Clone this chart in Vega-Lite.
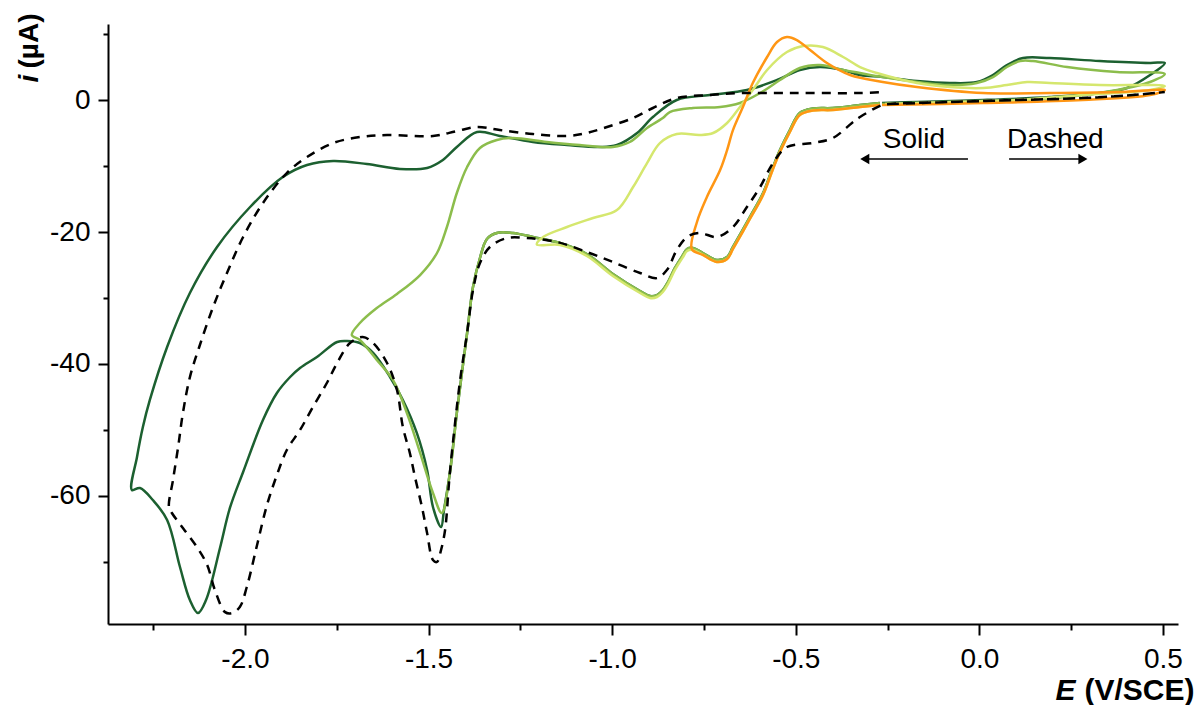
{
"$schema": "https://vega.github.io/schema/vega-lite/v6.json",
"width": 1070, "height": 600,
"autosize": {"type": "none"},
"padding": {"left": 108, "top": 24, "right": 23, "bottom": 81},
"background": "white",
"config": {"view": {"stroke": null}, "font": "Liberation Sans",
  "axis": {"grid": false, "domainColor": "black", "tickColor": "black", "labelColor": "black", "titleColor": "black", "domainWidth": 2, "tickWidth": 2}},
"datasets": {
"dark": [
{"E":-0.271,"i":-0.45},{"E":-0.325,"i":-0.76},{"E":-0.399,"i":-1.21},{"E":-0.453,"i":-1.3},{"E":-0.489,"i":-1.97},{"E":-0.516,"i":-4.55},{"E":-0.543,"i":-7.58},{"E":-0.562,"i":-10.15},{"E":-0.589,"i":-14.09},{"E":-0.625,"i":-17.73},{"E":-0.671,"i":-22.27},{"E":-0.687,"i":-23.79},{"E":-0.715,"i":-24.24},{"E":-0.753,"i":-23.18},{"E":-0.780,"i":-22.42},{"E":-0.796,"i":-22.58},{"E":-0.807,"i":-23.48},{"E":-0.829,"i":-25.45},{"E":-0.848,"i":-27.58},{"E":-0.862,"i":-28.79},{"E":-0.878,"i":-29.55},{"E":-0.897,"i":-29.7},{"E":-0.924,"i":-28.94},{"E":-0.998,"i":-26.36},{"E":-1.069,"i":-23.33},{"E":-1.142,"i":-21.67},{"E":-1.216,"i":-20.76},{"E":-1.270,"i":-20.15},{"E":-1.314,"i":-20.15},{"E":-1.341,"i":-21.06},{"E":-1.360,"i":-23.94},{"E":-1.379,"i":-28.33},{"E":-1.395,"i":-35.3},{"E":-1.423,"i":-47.42},{"E":-1.442,"i":-56.52},{"E":-1.458,"i":-62.12},{"E":-1.466,"i":-64.7},
{"E":-1.488,"i":-61.67},{"E":-1.504,"i":-56.06},{"E":-1.532,"i":-50.45},{"E":-1.570,"i":-45.45},{"E":-1.605,"i":-41.97},{"E":-1.651,"i":-38.33},{"E":-1.687,"i":-36.82},{"E":-1.722,"i":-36.52},{"E":-1.749,"i":-36.67},{"E":-1.804,"i":-38.94},{"E":-1.850,"i":-40.61},{"E":-1.877,"i":-41.97},{"E":-1.913,"i":-44.39},{"E":-1.951,"i":-48.48},{"E":-2.005,"i":-56.36},{"E":-2.041,"i":-61.82},{"E":-2.068,"i":-67.88},{"E":-2.106,"i":-75.76},{"E":-2.128,"i":-77.73},{"E":-2.150,"i":-75.76},{"E":-2.177,"i":-70.76},{"E":-2.212,"i":-63.64},{"E":-2.251,"i":-60.61},{"E":-2.286,"i":-58.79},{"E":-2.308,"i":-59.09},
{"E":-2.294,"i":-54.09},{"E":-2.278,"i":-49.55},{"E":-2.259,"i":-45.45},{"E":-2.212,"i":-37.42},{"E":-2.150,"i":-29.24},{"E":-2.076,"i":-22.27},{"E":-1.986,"i":-16.21},{"E":-1.897,"i":-11.67},{"E":-1.831,"i":-9.85},{"E":-1.760,"i":-9.24},{"E":-1.668,"i":-9.7},{"E":-1.578,"i":-10.45},{"E":-1.504,"i":-10.3},{"E":-1.461,"i":-9.09},{"E":-1.423,"i":-7.12},{"E":-1.368,"i":-4.85},{"E":-1.306,"i":-5.45},{"E":-1.216,"i":-6.36},{"E":-1.123,"i":-6.82},{"E":-1.033,"i":-7.12},{"E":-0.987,"i":-6.82},{"E":-0.932,"i":-5.0},{"E":-0.889,"i":-2.58},{"E":-0.824,"i":0},{"E":-0.734,"i":0.76},{"E":-0.633,"i":1.52},{"E":-0.551,"i":3.03},{"E":-0.489,"i":4.55},{"E":-0.434,"i":5.0},{"E":-0.371,"i":4.55},{"E":-0.325,"i":3.79},{"E":-0.263,"i":3.48},{"E":-0.170,"i":2.88},{"E":-0.080,"i":2.58},{"E":-0.007,"i":2.73},{"E":0.037,"i":3.79},{"E":0.075,"i":5.3},{"E":0.119,"i":6.36},{"E":0.192,"i":6.36},{"E":0.328,"i":5.91},{"E":0.465,"i":5.61},{"E":0.505,"i":5.61},
{"E":0.465,"i":3.79},{"E":0.402,"i":1.82},{"E":0.328,"i":1.06},{"E":0.192,"i":0.45},{"E":0.010,"i":0},{"E":-0.170,"i":-0.3},{"E":-0.265,"i":-0.45}
],
"medium": [
{"E":-0.271,"i":-0.45},{"E":-0.325,"i":-0.76},{"E":-0.399,"i":-1.21},{"E":-0.453,"i":-1.3},{"E":-0.489,"i":-1.97},{"E":-0.516,"i":-4.55},{"E":-0.543,"i":-7.58},{"E":-0.562,"i":-10.15},{"E":-0.589,"i":-14.09},{"E":-0.625,"i":-17.73},{"E":-0.671,"i":-22.27},{"E":-0.687,"i":-23.79},{"E":-0.715,"i":-24.24},{"E":-0.753,"i":-23.18},{"E":-0.780,"i":-22.42},{"E":-0.796,"i":-22.58},{"E":-0.807,"i":-23.48},{"E":-0.829,"i":-25.45},{"E":-0.848,"i":-27.58},{"E":-0.862,"i":-28.79},{"E":-0.878,"i":-29.55},{"E":-0.897,"i":-29.7},{"E":-0.924,"i":-28.94},{"E":-0.998,"i":-26.36},{"E":-1.069,"i":-23.33},{"E":-1.142,"i":-21.67},{"E":-1.216,"i":-20.76},{"E":-1.270,"i":-20.15},{"E":-1.314,"i":-20.15},{"E":-1.341,"i":-21.06},{"E":-1.360,"i":-23.94},{"E":-1.379,"i":-28.33},{"E":-1.395,"i":-35.3},{"E":-1.423,"i":-47.42},{"E":-1.442,"i":-56.52},
{"E":-1.464,"i":-62.58},{"E":-1.488,"i":-59.55},{"E":-1.523,"i":-53.48},{"E":-1.559,"i":-47.42},{"E":-1.597,"i":-42.42},{"E":-1.641,"i":-39.39},{"E":-1.687,"i":-36.36},{"E":-1.709,"i":-35.61},
{"E":-1.687,"i":-33.79},{"E":-1.641,"i":-31.52},{"E":-1.586,"i":-29.39},{"E":-1.523,"i":-26.52},{"E":-1.477,"i":-23.18},{"E":-1.450,"i":-19.24},{"E":-1.423,"i":-14.09},{"E":-1.395,"i":-10.15},{"E":-1.360,"i":-7.27},{"E":-1.314,"i":-6.06},{"E":-1.270,"i":-5.76},{"E":-1.178,"i":-6.36},{"E":-1.088,"i":-6.82},{"E":-0.998,"i":-7.12},{"E":-0.952,"i":-6.36},{"E":-0.905,"i":-4.24},{"E":-0.862,"i":-2.73},{"E":-0.843,"i":-1.82},{"E":-0.780,"i":-1.21},{"E":-0.706,"i":-1.06},{"E":-0.652,"i":-0.45},{"E":-0.597,"i":1.06},{"E":-0.543,"i":3.03},{"E":-0.489,"i":4.85},{"E":-0.434,"i":5.3},{"E":-0.371,"i":4.55},{"E":-0.325,"i":4.09},{"E":-0.263,"i":3.48},{"E":-0.170,"i":2.73},{"E":-0.080,"i":2.27},{"E":-0.007,"i":2.58},{"E":0.037,"i":3.48},{"E":0.075,"i":5.0},{"E":0.111,"i":5.91},{"E":0.146,"i":5.91},{"E":0.239,"i":5.0},{"E":0.375,"i":4.24},{"E":0.505,"i":3.94},
{"E":0.465,"i":2.73},{"E":0.375,"i":1.52},{"E":0.239,"i":0.45},{"E":0.010,"i":-0.15},{"E":-0.265,"i":-0.6}
],
"light": [
{"E":-0.271,"i":-0.75},{"E":-0.325,"i":-1.06},{"E":-0.399,"i":-1.51},{"E":-0.453,"i":-1.6},{"E":-0.489,"i":-2.27},{"E":-0.516,"i":-4.85},{"E":-0.543,"i":-7.88},{"E":-0.562,"i":-10.45},{"E":-0.589,"i":-14.39},{"E":-0.625,"i":-18.03},{"E":-0.671,"i":-22.57},{"E":-0.687,"i":-24.09},{"E":-0.715,"i":-24.54},{"E":-0.753,"i":-23.48},{"E":-0.780,"i":-22.72},{"E":-0.796,"i":-22.88},{"E":-0.807,"i":-23.78},{"E":-0.829,"i":-25.75},{"E":-0.848,"i":-27.88},{"E":-0.862,"i":-29.09},{"E":-0.878,"i":-29.85},{"E":-0.897,"i":-30.0},{"E":-0.924,"i":-29.24},{"E":-0.998,"i":-26.66},{"E":-1.069,"i":-23.63},{"E":-1.142,"i":-21.97},{"E":-1.205,"i":-21.9},
{"E":-1.188,"i":-20.76},{"E":-1.123,"i":-19.24},{"E":-1.052,"i":-17.88},{"E":-0.987,"i":-16.67},{"E":-0.943,"i":-13.18},{"E":-0.905,"i":-9.55},{"E":-0.870,"i":-6.52},{"E":-0.824,"i":-5.15},{"E":-0.761,"i":-5.3},{"E":-0.725,"i":-5.0},{"E":-0.687,"i":-3.48},{"E":-0.652,"i":-1.06},{"E":-0.617,"i":1.52},{"E":-0.578,"i":4.55},{"E":-0.524,"i":7.27},{"E":-0.480,"i":8.18},{"E":-0.426,"i":8.03},{"E":-0.371,"i":6.52},{"E":-0.325,"i":5.0},{"E":-0.279,"i":4.09},{"E":-0.170,"i":2.58},{"E":-0.080,"i":1.97},{"E":0.010,"i":1.82},{"E":0.075,"i":2.27},{"E":0.130,"i":2.73},{"E":0.192,"i":2.58},{"E":0.328,"i":2.27},{"E":0.505,"i":2.12},
{"E":0.465,"i":1.52},{"E":0.282,"i":0.76},{"E":0.102,"i":0},{"E":-0.080,"i":-0.3},{"E":-0.257,"i":-0.6}
],
"orange": [
{"E":-0.271,"i":-0.75},{"E":-0.325,"i":-1.06},{"E":-0.399,"i":-1.51},{"E":-0.453,"i":-1.6},{"E":-0.489,"i":-2.27},{"E":-0.516,"i":-4.85},{"E":-0.543,"i":-7.88},{"E":-0.562,"i":-10.45},{"E":-0.589,"i":-14.39},{"E":-0.625,"i":-18.03},{"E":-0.671,"i":-22.57},{"E":-0.687,"i":-24.09},{"E":-0.715,"i":-24.54},{"E":-0.753,"i":-23.48},{"E":-0.783,"i":-22.6},
{"E":-0.769,"i":-18.48},{"E":-0.742,"i":-14.7},{"E":-0.706,"i":-10.61},{"E":-0.687,"i":-7.58},{"E":-0.671,"i":-4.55},{"E":-0.644,"i":-1.06},{"E":-0.617,"i":2.58},{"E":-0.578,"i":6.52},{"E":-0.551,"i":8.79},{"E":-0.524,"i":9.55},{"E":-0.497,"i":9.09},{"E":-0.461,"i":7.58},{"E":-0.415,"i":5.61},{"E":-0.352,"i":3.79},{"E":-0.263,"i":2.73},{"E":-0.170,"i":1.97},{"E":0.010,"i":1.06},{"E":0.192,"i":1.06},{"E":0.375,"i":1.21},{"E":0.505,"i":1.52},
{"E":0.465,"i":0.76},{"E":0.282,"i":0},{"E":0.010,"i":-0.45},{"E":-0.265,"i":-0.76}
],
"dashed": [
{"E":-0.243,"i":-0.6},{"E":-0.080,"i":-0.3},{"E":0.102,"i":0},{"E":0.282,"i":0.3},{"E":0.418,"i":0.76},{"E":0.505,"i":1.21},{"E":0.418,"i":0.76},{"E":0.282,"i":0.3},{"E":0.102,"i":0},{"E":-0.080,"i":-0.3},{"E":-0.243,"i":-0.6},{"E":-0.265,"i":-0.76},
{"E":-0.325,"i":-2.58},{"E":-0.347,"i":-3.48},{"E":-0.399,"i":-5.76},{"E":-0.453,"i":-6.52},{"E":-0.524,"i":-7.12},{"E":-0.562,"i":-9.55},{"E":-0.597,"i":-13.18},{"E":-0.633,"i":-16.21},{"E":-0.671,"i":-19.24},{"E":-0.715,"i":-20.76},{"E":-0.761,"i":-20.15},{"E":-0.796,"i":-20.76},{"E":-0.824,"i":-22.73},{"E":-0.851,"i":-25.76},{"E":-0.878,"i":-26.97},{"E":-0.924,"i":-26.21},{"E":-0.998,"i":-24.55},{"E":-1.069,"i":-23.03},{"E":-1.150,"i":-21.52},{"E":-1.232,"i":-20.91},{"E":-1.286,"i":-20.91},{"E":-1.333,"i":-22.27},{"E":-1.360,"i":-24.7},{"E":-1.379,"i":-28.79},{"E":-1.395,"i":-35.3},{"E":-1.414,"i":-42.42},{"E":-1.442,"i":-56.52},{"E":-1.455,"i":-65.15},{"E":-1.466,"i":-68.18},{"E":-1.477,"i":-70.0},{"E":-1.488,"i":-69.7},{"E":-1.504,"i":-65.61},{"E":-1.518,"i":-61.67},{"E":-1.537,"i":-57.12},{"E":-1.551,"i":-53.48},{"E":-1.570,"i":-49.55},{"E":-1.586,"i":-43.94},{"E":-1.613,"i":-39.85},{"E":-1.651,"i":-36.82},{"E":-1.679,"i":-35.91},{"E":-1.714,"i":-36.82},{"E":-1.749,"i":-39.85},{"E":-1.777,"i":-42.88},{"E":-1.815,"i":-46.52},{"E":-1.850,"i":-50.0},{"E":-1.886,"i":-53.03},{"E":-1.913,"i":-56.82},{"E":-1.940,"i":-61.36},{"E":-1.967,"i":-67.42},{"E":-1.995,"i":-73.79},{"E":-2.014,"i":-76.82},{"E":-2.035,"i":-77.73},{"E":-2.054,"i":-77.6},{"E":-2.082,"i":-74.24},{"E":-2.103,"i":-70.45},{"E":-2.131,"i":-67.73},{"E":-2.169,"i":-64.85},{"E":-2.199,"i":-62.58},{"E":-2.207,"i":-61.67},
{"E":-2.196,"i":-57.58},{"E":-2.182,"i":-52.58},{"E":-2.169,"i":-47.42},{"E":-2.150,"i":-42.0},{"E":-2.125,"i":-37.5},{"E":-2.087,"i":-31.4},{"E":-2.049,"i":-26.21},{"E":-2.005,"i":-20.76},{"E":-1.951,"i":-15.61},{"E":-1.886,"i":-11.06},{"E":-1.831,"i":-8.64},{"E":-1.760,"i":-6.52},{"E":-1.687,"i":-5.61},{"E":-1.613,"i":-5.3},{"E":-1.488,"i":-5.45},{"E":-1.423,"i":-4.7},{"E":-1.368,"i":-4.09},{"E":-1.306,"i":-4.55},{"E":-1.216,"i":-5.15},{"E":-1.123,"i":-5.45},{"E":-1.069,"i":-5.0},{"E":-1.014,"i":-4.09},{"E":-0.943,"i":-2.73},{"E":-0.889,"i":-1.21},{"E":-0.824,"i":0.3},{"E":-0.734,"i":0.76},{"E":-0.644,"i":1.06},{"E":-0.551,"i":1.06},{"E":-0.461,"i":1.06},{"E":-0.325,"i":1.06},{"E":-0.257,"i":1.21}
],
"labels": [{"E":-0.178,"i":-7.27,"t":"Solid"},{"E":0.207,"i":-7.27,"t":"Dashed"}],
"arrows": [{"E1":-0.031,"E2":-0.312,"i":-8.94},{"E1":0.081,"E2":0.282,"i":-8.94}],
"heads": [{"E":-0.312,"i":-8.94,"d":"left"},{"E":0.282,"i":-8.94,"d":"right"}]
},
"resolve": {"axis": {"x": "independent", "y": "independent"}},
"layer": [
{"data": {"name": "dark"},
 "mark": {"type": "line", "color": "#1c6030", "strokeWidth": 2.5, "interpolate": "catmull-rom"},
 "encoding": {
  "x": {"field": "E", "type": "quantitative", "scale": {"domain": [-2.373, 0.541], "nice": false, "zero": false},
    "axis": {"orient": "bottom", "values": [-2, -1.5, -1, -0.5, 0, 0.5], "labelExpr": "replace(format(datum.value, '.1f'), '\u2212', '-')", "tickSize": 11, "labelFontSize": 28, "labelPadding": 10, "labelFlush": false, "labelOverlap": false,
      "title": "(V/SCE)", "titleFontSize": 30, "titleFontWeight": "bold", "titleX": 1086, "titleY": 75, "titleAlign": "right", "titleBaseline": "alphabetic", "titleAngle": 0}},
  "y": {"field": "i", "type": "quantitative", "scale": {"domain": [-79.4, 11.52], "nice": false, "zero": false},
    "axis": {"orient": "left", "values": [0, -20, -40, -60], "labelExpr": "replace(format(datum.value, 'd'), '\u2212', '-')", "tickSize": 10, "labelFontSize": 28, "labelPadding": 8, "labelFlush": false, "labelOverlap": false,
      "title": "(µA)", "titleFontSize": 28, "titleFontWeight": "bold", "titleAngle": 270, "titleAlign": "right", "titleBaseline": "alphabetic", "titleX": -71, "titleY": -11}},
  "order": {"value": null}
 }},
{"data": {"name": "medium"},
 "mark": {"type": "line", "color": "#8cbd4c", "strokeWidth": 2.5, "interpolate": "catmull-rom"},
 "encoding": {
  "x": {"field": "E", "type": "quantitative", "scale": {"domain": [-2.373, 0.541], "nice": false, "zero": false},
    "axis": {"orient": "bottom", "values": [-2.25, -1.75, -1.25, -0.75, -0.25, 0.25], "tickSize": 6, "labels": false, "domain": false,
      "title": "E", "titleFontSize": 30, "titleFontWeight": "bold", "titleFontStyle": "italic", "titleX": 967, "titleY": 75, "titleAlign": "right", "titleBaseline": "alphabetic", "titleAngle": 0}},
  "y": {"field": "i", "type": "quantitative", "scale": {"domain": [-79.4, 11.52], "nice": false, "zero": false},
    "axis": {"orient": "left", "values": [10, -10, -30, -50, -70], "tickSize": 5, "labels": false, "domain": false,
      "title": "i", "titleFontSize": 28, "titleFontWeight": "bold", "titleFontStyle": "italic", "titleAngle": 270, "titleAlign": "left", "titleBaseline": "alphabetic", "titleX": -71, "titleY": 58}},
  "order": {"value": null}
 }},
{"data": {"name": "light"},
 "mark": {"type": "line", "color": "#d5e76e", "strokeWidth": 2.5, "interpolate": "catmull-rom"},
 "encoding": {
  "x": {"field": "E", "type": "quantitative", "scale": {"domain": [-2.373, 0.541], "nice": false, "zero": false}, "axis": null},
  "y": {"field": "i", "type": "quantitative", "scale": {"domain": [-79.4, 11.52], "nice": false, "zero": false}, "axis": null},
  "order": {"value": null}
 }},
{"data": {"name": "orange"},
 "mark": {"type": "line", "color": "#ff9614", "strokeWidth": 2.5, "interpolate": "catmull-rom"},
 "encoding": {
  "x": {"field": "E", "type": "quantitative", "scale": {"domain": [-2.373, 0.541], "nice": false, "zero": false}, "axis": null},
  "y": {"field": "i", "type": "quantitative", "scale": {"domain": [-79.4, 11.52], "nice": false, "zero": false}, "axis": null},
  "order": {"value": null}
 }},
{"data": {"name": "dashed"},
 "mark": {"type": "line", "color": "black", "strokeWidth": 2.5, "strokeDash": [9, 7], "interpolate": "catmull-rom"},
 "encoding": {
  "x": {"field": "E", "type": "quantitative", "scale": {"domain": [-2.373, 0.541], "nice": false, "zero": false}, "axis": null},
  "y": {"field": "i", "type": "quantitative", "scale": {"domain": [-79.4, 11.52], "nice": false, "zero": false}, "axis": null},
  "order": {"value": null}
 }},
{"data": {"name": "labels"},
 "mark": {"type": "text", "fontSize": 28, "align": "center", "baseline": "alphabetic", "color": "black"},
 "encoding": {
  "x": {"field": "E", "type": "quantitative", "scale": {"domain": [-2.373, 0.541], "nice": false, "zero": false}, "axis": null},
  "y": {"field": "i", "type": "quantitative", "scale": {"domain": [-79.4, 11.52], "nice": false, "zero": false}, "axis": null},
  "text": {"field": "t"}
 }},
{"data": {"name": "arrows"},
 "mark": {"type": "rule", "color": "black", "strokeWidth": 1.3},
 "encoding": {
  "x": {"field": "E1", "type": "quantitative", "scale": {"domain": [-2.373, 0.541], "nice": false, "zero": false}, "axis": null},
  "x2": {"field": "E2"},
  "y": {"field": "i", "type": "quantitative", "scale": {"domain": [-79.4, 11.52], "nice": false, "zero": false}, "axis": null}
 }},
{"data": {"name": "heads"},
 "mark": {"type": "point", "filled": true, "color": "black", "opacity": 1, "size": 110},
 "encoding": {
  "x": {"field": "E", "type": "quantitative", "scale": {"domain": [-2.373, 0.541], "nice": false, "zero": false}, "axis": null},
  "y": {"field": "i", "type": "quantitative", "scale": {"domain": [-79.4, 11.52], "nice": false, "zero": false}, "axis": null},
  "shape": {"field": "d", "type": "nominal", "scale": {"domain": ["left", "right"], "range": ["triangle-left", "triangle-right"]}, "legend": null}
 }}
]
}
